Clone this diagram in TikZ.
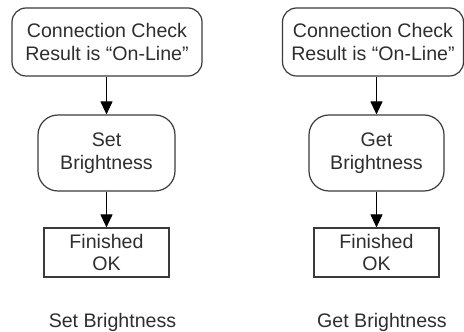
\documentclass[tikz,border=0pt]{standalone}
\usepackage{fontspec}
\setmainfont{Liberation Sans}
\usetikzlibrary{arrows.meta}
\definecolor{edge}{HTML}{3A3A3A}
\definecolor{ink}{HTML}{2E2E2E}
\begin{document}
\begin{tikzpicture}[x=1pt,y=1pt,
  every node/.style={font=\fontsize{19.6}{23}\selectfont, text=ink, align=center, inner sep=0pt},
  terminal/.style={draw=edge, line width=1.2pt, rounded corners=14pt},
  process/.style={draw=edge, line width=1.2pt, rounded corners=20pt},
  endbox/.style={draw=edge, line width=1.2pt, font=\fontsize{19.6}{22}\selectfont},
  flow/.style={line width=1.1pt, draw=black, -{Triangle[length=13pt,width=12pt]}},
  caption/.style={anchor=base}]
\useasboundingbox (0,0) rectangle (464,332);

% Set Brightness sequence
\node[terminal, minimum width=190pt, minimum height=68pt] (sc) at (107,290)
  {Connection Check\\Result is “On-Line”};
\node[process, minimum width=137pt, minimum height=76pt] (sset) at (106.5,179)
  {Set\\Brightness};
\node[endbox, minimum width=125pt, minimum height=49pt] (sdone) at (106.5,79.5)
  {Finished\\OK};
\node[caption] (scap) at (112.5,4) {Set Brightness};
\draw[flow] (sset.north |- sc.south) -- (sset.north);
\draw[flow] (sset.south) -- (sdone.north);

% Get Brightness sequence
\node[terminal, minimum width=181pt, minimum height=68pt] (gc) at (373,290)
  {Connection Check\\Result is “On-Line”};
\node[process, minimum width=135pt, minimum height=76pt] (gget) at (376.5,179)
  {Get\\Brightness};
\node[endbox, minimum width=125pt, minimum height=49pt] (gdone) at (376.5,79.5)
  {Finished\\OK};
\node[caption] (gcap) at (382,4) {Get Brightness};
\draw[flow] (gget.north |- gc.south) -- (gget.north);
\draw[flow] (gget.south) -- (gdone.north);
\end{tikzpicture}
\end{document}
